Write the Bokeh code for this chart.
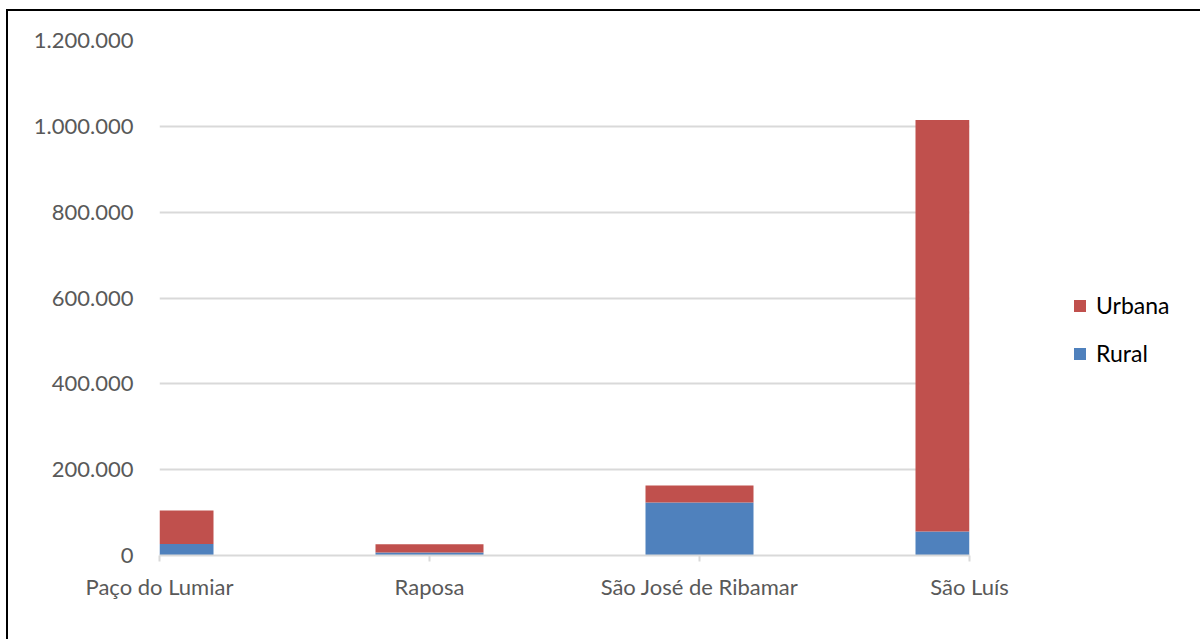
from bokeh.plotting import figure
from bokeh.models import ColumnDataSource, FixedTicker, Legend, LegendItem, Range1d
from bokeh.embed import file_html
from bokeh.resources import INLINE

categories = ["Paço do Lumiar", "Raposa", "São José de Ribamar", "São Luís"]
rural = [27000, 7000, 123500, 56000]
urbana = [78000, 19500, 39500, 959000]
y_ticks = [0, 200000, 400000, 600000, 800000, 1000000, 1200000]

FONT = "Lato"
x = list(range(len(categories)))
total = [r + u for r, u in zip(rural, urbana)]
src = ColumnDataSource(dict(x=x, rural=rural, total=total))

p = figure(width=1186, height=628, output_backend="svg", toolbar_location=None,
           x_range=Range1d(0, len(categories) - 1), y_range=Range1d(0, 1200000),
           frame_width=810, frame_height=515,
           min_border_left=151, min_border_right=225, min_border_top=29, min_border_bottom=84)
p.styles = {"border-left": "2px solid black", "border-top": "2px solid black",
            "margin-left": "6px", "margin-top": "9px"}
p.outline_line_color = None
p.background_fill_color = "white"
p.border_fill_color = "white"

rb = p.vbar(x="x", bottom=0, top="rural", width=0.4, source=src, fill_color="#4F81BD", line_color=None)
ub = p.vbar(x="x", bottom="rural", top="total", width=0.4, source=src, fill_color="#C0504D", line_color=None)

# y axis
p.yaxis.ticker = FixedTicker(ticks=y_ticks)
p.yaxis.major_label_overrides = {t: f"{t:,}".replace(",", ".") for t in y_ticks}
p.yaxis.axis_line_color = None
p.yaxis.major_tick_line_color = None
p.yaxis.minor_tick_line_color = None
p.yaxis.major_label_standoff = 20
p.yaxis.major_label_text_font = FONT
p.yaxis.major_label_text_font_size = "22px"
p.yaxis.major_label_text_color = "#595959"
p.ygrid.ticker = FixedTicker(ticks=y_ticks)
p.ygrid.grid_line_color = "#D9D9D9"
p.ygrid.grid_line_width = 2
p.xgrid.grid_line_color = None

# x axis
p.xaxis.ticker = FixedTicker(ticks=x)
p.xaxis.major_label_overrides = {i: c for i, c in zip(x, categories)}
p.xaxis.axis_line_color = "#D9D9D9"
p.xaxis.axis_line_width = 2
p.xaxis.major_tick_line_color = "#D9D9D9"
p.xaxis.major_tick_line_width = 2
p.xaxis.major_tick_out = 6
p.xaxis.major_tick_in = 0
p.xaxis.minor_tick_line_color = None
p.xaxis.major_label_standoff = 11
p.xaxis.major_label_text_font = FONT
p.xaxis.major_label_text_font_size = "22px"
p.xaxis.major_label_text_color = "#595959"

legend = Legend(items=[LegendItem(label="Urbana", renderers=[ub]),
                       LegendItem(label="Rural", renderers=[rb])],
                location=(103, 188))
legend.border_line_color = None
legend.background_fill_alpha = 0
legend.margin = 0
legend.padding = 0
legend.label_text_font = FONT
legend.label_text_font_size = "23px"
legend.label_text_color = "#000000"
legend.glyph_width = 15
legend.glyph_height = 15
legend.label_standoff = 9
legend.label_height = 24
legend.spacing = 20
p.add_layout(legend, "right")

open("out.html", "w").write(file_html(p, INLINE))
